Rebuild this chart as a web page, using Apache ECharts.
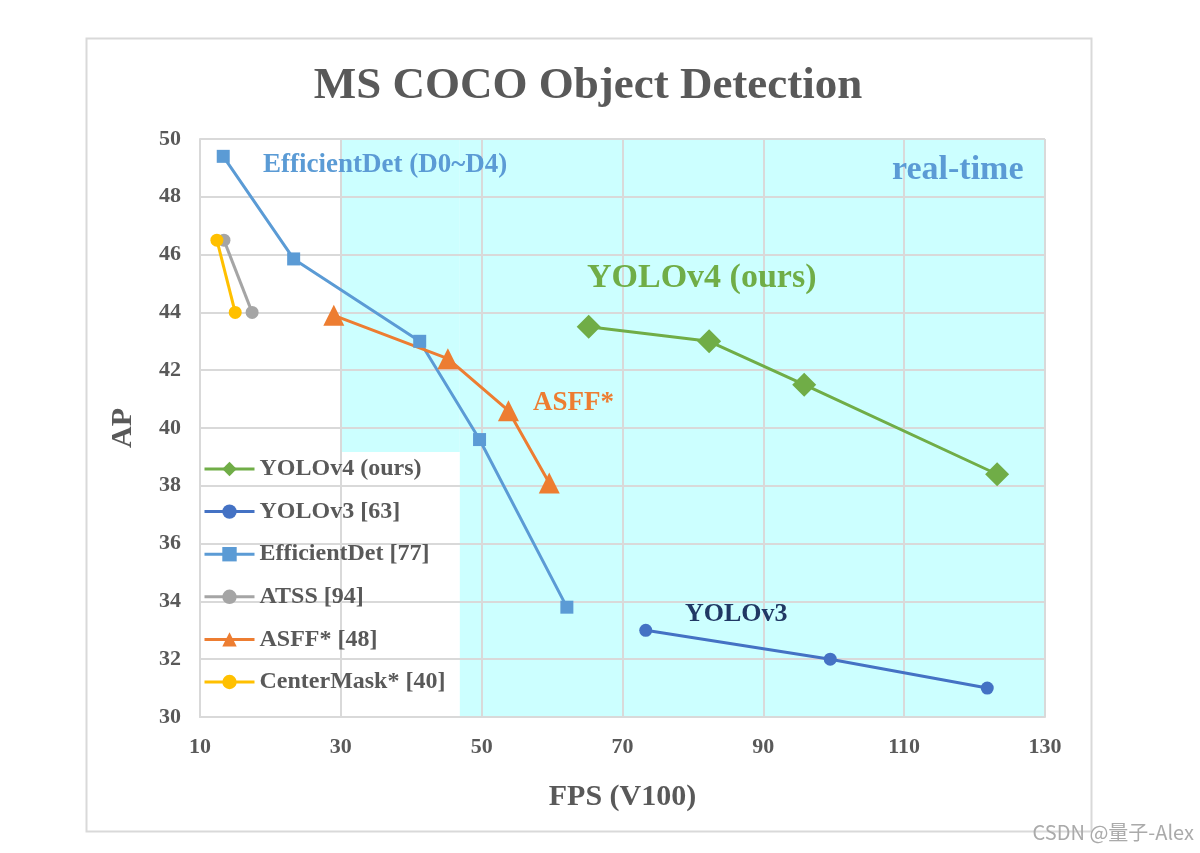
<!DOCTYPE html>
<html>
<head>
<meta charset="utf-8">
<script src="https://cdn.jsdelivr.net/npm/echarts@6/dist/echarts.min.js"></script>
<style>html,body{margin:0;padding:0;background:#fff;}#c{width:1200px;height:853px;}</style>
</head>
<body>
<div id="c"></div>
<script>
// ---- data ----
const xTicks = [10, 30, 50, 70, 90, 110, 130];
const yTicks = [30, 32, 34, 36, 38, 40, 42, 44, 46, 48, 50];
const seriesNames = ['YOLOv4 (ours)', 'YOLOv3 [63]', 'EfficientDet [77]', 'ATSS [94]', 'ASFF* [48]', 'CenterMask* [40]'];
const yolov4FPS = [65.2, 82.3, 95.8, 123.2];
const yolov4AP = [43.5, 43.0, 41.5, 38.4];
const yolov3FPS = [73.3, 99.5, 121.8];
const yolov3AP = [33.0, 32.0, 31.0];
const effdetFPS = [13.3, 23.3, 41.2, 49.7, 62.1];
const effdetAP = [49.4, 45.85, 43.0, 39.6, 33.8];
const atssFPS = [13.4, 17.4];
const atssAP = [46.5, 44.0];
const asffFPS = [29.0, 45.2, 53.8, 59.6];
const asffAP = [43.9, 42.4, 40.6, 38.1];
const centermaskFPS = [12.4, 15.0];
const centermaskAP = [46.5, 44.0];
const realTimeFPS = 30;

const pair = (xs, ys) => xs.map((x, i) => [x, ys[i]]);
const serif = 'Liberation Serif';
const grey = '#595959';

const colors = ['#70AD47', '#4472C4', '#5B9BD5', '#A5A5A5', '#ED7D31', '#FFC000'];
const symbols = ['diamond', 'circle', 'rect', 'circle', 'triangle', 'circle'];
const sizes = [24, 13, 13, 13, 21, 13];
const datas = [
  pair(yolov4FPS, yolov4AP), pair(yolov3FPS, yolov3AP), pair(effdetFPS, effdetAP),
  pair(atssFPS, atssAP), pair(asffFPS, asffAP), pair(centermaskFPS, centermaskAP)
];
// draw order: later ones on top
const order = [3, 5, 2, 4, 1, 0];

const series = order.map(i => ({
  name: seriesNames[i],
  type: 'line',
  data: datas[i],
  symbol: symbols[i],
  symbolSize: sizes[i],
  showSymbol: true,
  lineStyle: { color: colors[i], width: 3 },
  itemStyle: { color: colors[i] },
  color: colors[i],
  animation: false,
  z: 3
}));

series.push({
  name: 'shade',
  type: 'line',
  data: [],
  silent: true,
  markArea: {
    silent: true,
    z: -1,
    itemStyle: { color: '#CCFFFF' },
    data: [
      [{ coord: [realTimeFPS, 39.17] }, { coord: [46.9, 50] }],
      [{ coord: [46.9, 30] }, { coord: [130, 50] }]
    ]
  }
});

const axisLabel = { color: grey, fontFamily: serif, fontWeight: 'bold', fontSize: 22, margin: 19 };

const option = {
  backgroundColor: '#fff',
  animation: false,
  title: {
    text: 'MS COCO Object Detection',
    left: 583, top: 59,
    textAlign: 'center',
    textStyle: { fontFamily: serif, fontWeight: 'bold', fontSize: 45, color: grey }
  },
  grid: { left: 200, right: 155, top: 139, bottom: 136 },
  legend: {
    data: seriesNames,
    orient: 'vertical',
    left: 198, top: 450,
    itemWidth: 50, itemHeight: 18,
    itemGap: 14.6,
    lineStyle: { width: 3 },
    textStyle: { fontFamily: serif, fontWeight: 'bold', fontSize: 24, color: grey, lineHeight: 28 }
  },
  xAxis: {
    type: 'value', min: 10, max: 130, interval: 20,
    name: 'FPS (V100)', nameLocation: 'middle', nameGap: 65,
    nameTextStyle: { fontFamily: serif, fontWeight: 'bold', fontSize: 30, color: grey },
    axisLine: { show: true, lineStyle: { color: '#D9D9D9', width: 2 } },
    axisTick: { show: false },
    splitLine: { show: true, lineStyle: { color: '#D9D9D9', width: 2 } },
    axisLabel: Object.assign({}, axisLabel, { formatter: v => xTicks.includes(v) ? String(v) : '' })
  },
  yAxis: {
    type: 'value', min: 30, max: 50, interval: 2,
    name: 'AP', nameLocation: 'middle', nameGap: 62,
    nameTextStyle: { fontFamily: serif, fontWeight: 'bold', fontSize: 30, color: grey },
    axisLine: { show: true, lineStyle: { color: '#D9D9D9', width: 2 } },
    axisTick: { show: false },
    splitLine: { show: true, lineStyle: { color: '#D9D9D9', width: 2 } },
    axisLabel: Object.assign({}, axisLabel, { formatter: v => yTicks.includes(v) ? String(v) : '' })
  },
  graphic: [
    { type: 'rect', left: 84, top: 36, z: -10, silent: true,
      shape: { width: 1005, height: 793 },
      style: { fill: 'none', stroke: '#D9D9D9', lineWidth: 2 } },
    { type: 'text', x: 263, y: 165, z: 10, style: { text: 'EfficientDet (D0~D4)', fill: '#5B9BD5', font: 'bold 27px "Liberation Serif"', textVerticalAlign: 'middle' } },
    { type: 'text', x: 892, y: 170, z: 10, style: { text: 'real-time', fill: '#5B9BD5', font: 'bold 34px "Liberation Serif"', textVerticalAlign: 'middle' } },
    { type: 'text', x: 587, y: 278, z: 10, style: { text: 'YOLOv4 (ours)', fill: '#70AD47', font: 'bold 34px "Liberation Serif"', textVerticalAlign: 'middle' } },
    { type: 'text', x: 533, y: 403, z: 10, style: { text: 'ASFF*', fill: '#ED7D31', font: 'bold 27px "Liberation Serif"', textVerticalAlign: 'middle' } },
    { type: 'text', x: 685, y: 614, z: 10, style: { text: 'YOLOv3', fill: '#203864', font: 'bold 26px "Liberation Serif"', textVerticalAlign: 'middle' } },
    { type: 'text', right: 6, top: 822, z: 10, style: { text: 'CSDN @量子-Alex', fill: '#AAAAAA', font: '20px "Noto Sans CJK SC"' } }
  ],
  series: series
};

const chart = echarts.init(document.getElementById('c'), null, { renderer: 'canvas' });
chart.setOption(option);
</script>
</body>
</html>
